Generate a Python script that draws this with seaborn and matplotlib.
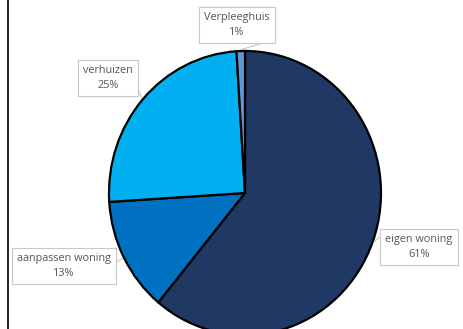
import numpy as np
import matplotlib
matplotlib.use("Agg")
import matplotlib.pyplot as plt
from matplotlib.lines import Line2D
import seaborn as sns

# Woonwens: share of respondents per option
categories = ["eigen woning", "aanpassen woning", "verhuizen", "Verpleeghuis"]
values = [61, 13, 25, 1]
colors = ["#203864", "#0070C0", "#00B0F0", "#5B9BD5"]

sns.set_theme(style="white")
plt.rcParams["font.family"] = ["Open Sans", "DejaVu Sans"]

W, H = 463, 329
fig = plt.figure(figsize=(W / 100, H / 100), dpi=100)
ax = fig.add_axes([0, 0, 1, 1])

# pie centre and radii in pixels
cx, cy, rx, ry = 245, 193, 136, 142

wedges, _ = ax.pie(values, colors=colors, startangle=90, counterclock=False,
                   wedgeprops=dict(edgecolor="black", linewidth=1.6))

ax.set_aspect("auto")
ax.set_xlim(-cx / rx, (W - cx) / rx)
ax.set_ylim((cy - H) / ry, cy / ry)
ax.axis("off")

def to_data(px, py):
    return (px - cx) / rx, (cy - py) / ry

# label box centres (pixels) and where their leader lines meet the box
label_pos = [(419, 247), (64, 266), (108, 78), (237, 25)]
leader_box = [(380, 237), (117, 262), (137, 87), (260, 44)]

for w, name, v, pos, lb in zip(wedges, categories, values, label_pos, leader_box):
    mid = np.deg2rad((w.theta1 + w.theta2) / 2)
    ex, ey = np.cos(mid), np.sin(mid)
    ax.annotate(f"{name}\n{v}%", xy=(ex, ey), xytext=to_data(*pos),
                ha="center", va="center", fontsize=7.8, color="#555555",
                linespacing=1.4,
                bbox=dict(boxstyle="square,pad=0.5", fc="white", ec="#C8C8C8", lw=0.8))
    bx, by = to_data(*lb)
    ax.plot([bx, ex * 1.01], [by, ey * 1.01], color="#C8C8C8", lw=0.8, zorder=0.5)

# left frame border
fig.add_artist(Line2D([8 / W, 8 / W], [0, 1], color="black", lw=1.2))

fig.savefig("out.png", dpi=100)
